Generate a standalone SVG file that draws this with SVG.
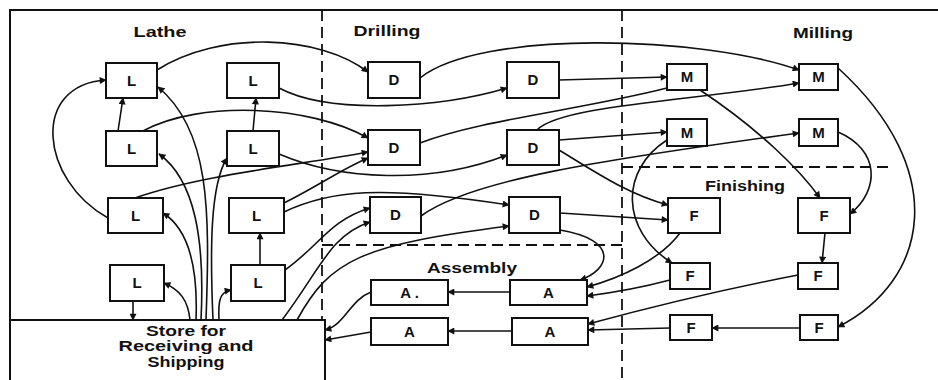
<svg xmlns="http://www.w3.org/2000/svg" width="938" height="380" viewBox="0 0 938 380">
<style>
.box{fill:#fff;stroke:#111;stroke-width:2}
.bl{font-family:"Liberation Sans",Arial,sans-serif;font-size:15px;font-weight:bold;fill:#111;text-anchor:middle}
.lab{font-family:"Liberation Sans",Arial,sans-serif;font-size:14px;font-weight:bold;fill:#111;text-anchor:middle}
.frame{fill:none;stroke:#111;stroke-width:2}
.dash{fill:none;stroke:#111;stroke-width:1.8;stroke-dasharray:11 6}
.c{fill:none;stroke:#111;stroke-width:1.6}
.a{marker-end:url(#ah)}
</style>
<defs>
<marker id="ah" viewBox="0 0 10 10" refX="9" refY="5" markerWidth="9" markerHeight="7" markerUnits="userSpaceOnUse" orient="auto">
<path d="M0,0 L10,5 L0,10 z" fill="#111"/>
</marker>
</defs>
<rect width="938" height="380" fill="#fff"/>
<g id="frame">
<path class="frame" d="M10,380 L10,10 L938,10"/>
<path class="dash" d="M322,10 L322,320"/>
<path class="dash" d="M622,10 L622,380"/>
<path class="dash" d="M322,245 L622,245"/>
<path class="dash" d="M622,167 L890,167"/>
</g>
<g id="labels">
<text class="lab" x="160" y="37" textLength="53" lengthAdjust="spacingAndGlyphs">Lathe</text>
<text class="lab" x="387" y="36" textLength="67" lengthAdjust="spacingAndGlyphs">Drilling</text>
<text class="lab" x="823" y="38" textLength="60" lengthAdjust="spacingAndGlyphs">Milling</text>
<text class="lab" x="745" y="191" textLength="80" lengthAdjust="spacingAndGlyphs">Finishing</text>
<text class="lab" x="472" y="273" textLength="90" lengthAdjust="spacingAndGlyphs">Assembly</text>
</g>
<g id="connectors">
<path class="c a" d="M118,131 L123,98"/>
<path class="c a" d="M108,218 C40,180 30,85 106,80"/>
<path class="c a" d="M253,131 L256,98"/>
<path class="c a" d="M260,265 L260,233"/>
<path class="c a" d="M133,301 L133,320"/>
<path class="c a" d="M190,320 C188,300 180,290 164,283"/>
<path class="c a" d="M196,320 C198,270 190,230 163,213"/>
<path class="c a" d="M201,320 C205,240 195,180 159,154"/>
<path class="c a" d="M206,320 C210,210 210,130 158,87"/>
<path class="c a" d="M213,320 C210,250 210,185 227,158"/>
<path class="c a" d="M219,320 C218,300 220,292 231,290"/>
<path class="c a" d="M157,70 C220,30 320,35 368,72"/>
<path class="c a" d="M279,88 C330,115 440,108 507,88"/>
<path class="c a" d="M143,131 C200,100 310,105 368,138"/>
<path class="c a" d="M279,154 C340,180 430,185 507,155"/>
<path class="c a" d="M135,198 C200,175 300,165 368,152"/>
<path class="c a" d="M284,203 C320,185 340,170 368,158"/>
<path class="c a" d="M284,212 C330,190 380,185 509,205"/>
<path class="c a" d="M285,270 C320,245 330,220 370,208"/>
<path class="c a" d="M282,320 C320,270 330,235 370,222"/>
<path class="c a" d="M297,320 C330,260 360,245 509,226"/>
<path class="c a" d="M420,78 C480,30 700,35 799,70"/>
<path class="c a" d="M559,80 L667,77"/>
<path class="c" d="M420,143 C480,120 580,110 667,88"/>
<path class="c a" d="M537,130 C560,105 700,100 799,83"/>
<path class="c a" d="M559,140 L667,132"/>
<path class="c a" d="M559,150 C600,175 630,195 668,205"/>
<path class="c a" d="M421,216 C470,180 600,160 799,133"/>
<path class="c a" d="M560,213 L668,220"/>
<path class="c a" d="M560,230 C620,240 610,270 580,280"/>
<path class="c a" d="M700,90 C760,130 800,170 820,198"/>
<path class="c a" d="M667,140 C620,170 620,230 672,263"/>
<path class="c a" d="M838,68 C950,170 930,280 838,327"/>
<path class="c a" d="M838,132 C880,150 880,190 850,214"/>
<path class="c a" d="M825,233 L822,263"/>
<path class="c a" d="M680,233 C660,260 620,278 587,287"/>
<path class="c a" d="M670,280 C640,288 610,293 587,296"/>
<path class="c a" d="M798,275 C720,290 640,310 588,324"/>
<path class="c a" d="M800,328 L712,328"/>
<path class="c a" d="M670,328 L588,330"/>
<path class="c a" d="M510,292 L448,292"/>
<path class="c a" d="M512,331 L448,331"/>
<path class="c a" d="M371,292 C350,300 345,325 325,330"/>
<path class="c a" d="M371,332 L325,340"/>
</g>
<g id="store">
<path class="frame" d="M10,320 L325,320 L325,380"/>
<text class="lab" x="186" y="336" textLength="80" lengthAdjust="spacingAndGlyphs">Store for</text>
<text class="lab" x="186" y="351" textLength="135" lengthAdjust="spacingAndGlyphs">Receiving and</text>
<text class="lab" x="186" y="367" textLength="77" lengthAdjust="spacingAndGlyphs">Shipping</text>
</g>
<g id="L1"><rect class="box" x="106" y="63" width="51" height="35"/><text class="bl" x="131.5" y="86">L</text></g>
<g id="L2"><rect class="box" x="227" y="63" width="52" height="35"/><text class="bl" x="253" y="86">L</text></g>
<g id="L3"><rect class="box" x="106" y="131" width="51" height="35"/><text class="bl" x="131.5" y="154">L</text></g>
<g id="L4"><rect class="box" x="227" y="131" width="52" height="35"/><text class="bl" x="253" y="154">L</text></g>
<g id="L5"><rect class="box" x="108" y="198" width="55" height="35"/><text class="bl" x="135.5" y="221">L</text></g>
<g id="L6"><rect class="box" x="229" y="198" width="55" height="35"/><text class="bl" x="256.5" y="221">L</text></g>
<g id="L7"><rect class="box" x="110" y="265" width="54" height="36"/><text class="bl" x="137" y="288">L</text></g>
<g id="L8"><rect class="box" x="231" y="265" width="54" height="36"/><text class="bl" x="258" y="288">L</text></g>
<g id="D1"><rect class="box" x="368" y="62" width="52" height="36"/><text class="bl" x="394" y="85">D</text></g>
<g id="D2"><rect class="box" x="507" y="62" width="52" height="36"/><text class="bl" x="533" y="85">D</text></g>
<g id="D3"><rect class="box" x="368" y="130" width="52" height="35"/><text class="bl" x="394" y="153">D</text></g>
<g id="D4"><rect class="box" x="507" y="130" width="52" height="35"/><text class="bl" x="533" y="153">D</text></g>
<g id="D5"><rect class="box" x="370" y="197" width="51" height="36"/><text class="bl" x="395.5" y="220">D</text></g>
<g id="D6"><rect class="box" x="509" y="197" width="51" height="36"/><text class="bl" x="534.5" y="220">D</text></g>
<g id="A1"><rect class="box" x="371" y="280" width="77" height="25"/><text class="bl" x="409.5" y="298">A .</text></g>
<g id="A2"><rect class="box" x="510" y="280" width="77" height="25"/><text class="bl" x="548.5" y="298">A</text></g>
<g id="A3"><rect class="box" x="371" y="318" width="77" height="27"/><text class="bl" x="409.5" y="337">A</text></g>
<g id="A4"><rect class="box" x="512" y="318" width="76" height="27"/><text class="bl" x="550" y="337">A</text></g>
<g id="M1"><rect class="box" x="667" y="64" width="40" height="26"/><text class="bl" x="687" y="82">M</text></g>
<g id="M2"><rect class="box" x="799" y="64" width="39" height="26"/><text class="bl" x="818.5" y="82">M</text></g>
<g id="M3"><rect class="box" x="667" y="119" width="40" height="27"/><text class="bl" x="687" y="138">M</text></g>
<g id="M4"><rect class="box" x="799" y="119" width="39" height="27"/><text class="bl" x="818.5" y="138">M</text></g>
<g id="F1"><rect class="box" x="668" y="198" width="52" height="35"/><text class="bl" x="694" y="221">F</text></g>
<g id="F2"><rect class="box" x="798" y="198" width="52" height="35"/><text class="bl" x="824" y="221">F</text></g>
<g id="F3"><rect class="box" x="670" y="263" width="40" height="26"/><text class="bl" x="690" y="281">F</text></g>
<g id="F4"><rect class="box" x="798" y="263" width="40" height="26"/><text class="bl" x="818" y="281">F</text></g>
<g id="F5"><rect class="box" x="670" y="315" width="42" height="25"/><text class="bl" x="691" y="333">F</text></g>
<g id="F6"><rect class="box" x="800" y="315" width="38" height="25"/><text class="bl" x="819" y="333">F</text></g>
</svg>
